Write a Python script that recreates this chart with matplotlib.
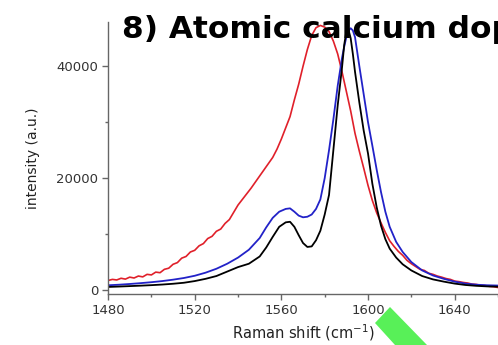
import matplotlib
matplotlib.use('Agg')
import matplotlib.pyplot as plt
from matplotlib.patches import Polygon
from matplotlib.ticker import MultipleLocator

# Raman spectra
shift = [1480, 1485, 1490, 1495, 1500, 1505, 1510, 1515, 1520, 1525, 1530, 1535,
         1540, 1545, 1550, 1553, 1556, 1559, 1562, 1564, 1566, 1568, 1570, 1572,
         1574, 1576, 1578, 1580, 1582, 1584, 1586, 1588, 1589, 1590, 1591, 1592,
         1593, 1594, 1596, 1598, 1600, 1602, 1604, 1606, 1608, 1610, 1613, 1616,
         1620, 1625, 1630, 1635, 1640, 1645, 1650, 1655, 1660]
black = [550, 620, 700, 780, 870, 980, 1120, 1300, 1600, 2000, 2500, 3300,
         4100, 4700, 6000, 7600, 9500, 11300, 12100, 12200, 11300, 9800, 8400, 7700,
         7800, 8900, 10600, 13500, 17000, 25000, 33000, 39800, 43800, 46300, 46500, 45000,
         42200, 39000, 33500, 28500, 24400, 19000, 14800, 11500, 9100, 7400, 5800, 4600,
         3500, 2500, 1900, 1500, 1150, 900, 750, 650, 600]
blue = [850, 950, 1080, 1230, 1400, 1600, 1850, 2150, 2550, 3100, 3800, 4700,
        5800, 7200, 9300, 11200, 12900, 14000, 14500, 14600, 14000, 13300, 13000, 13100,
        13500, 14500, 16200, 20000, 25000, 30500, 36500, 41500, 43500, 45200, 46400, 46800,
        46400, 45200, 40000, 35000, 30000, 25800, 21500, 17500, 14000, 11300, 8600, 6800,
        5000, 3500, 2600, 2000, 1500, 1150, 950, 850, 800]

shift_red = list(range(1480, 1661, 2))
red = [1700, 1900, 1800, 2100, 1950, 2300, 2150, 2500, 2350, 2800, 2700, 3200,
       3100, 3700, 3900, 4600, 4900, 5700, 6000, 6800, 7100, 7900, 8300, 9200,
       9600, 10500, 10900, 11900, 12600, 13900, 15200, 16200, 17200, 18200, 19300, 20400,
       21500, 22600, 23700, 25200, 27000, 29000, 31000, 34000, 36800, 40000, 43000, 45500,
       46900, 47300, 47000, 46200, 44500, 42200, 39000, 35500, 32000, 28000, 24800, 21800,
       18700, 16000, 13800, 12000, 10300, 8800, 7800, 6900, 6200, 5300, 4700, 4200,
       3700, 3500, 3000, 2800, 2500, 2300, 2050, 1900, 1600, 1500, 1350, 1250,
       1050, 1000, 850, 800, 650, 600, 450]

plt.rcParams['font.family'] = ['DejaVu Sans']

fig = plt.figure(figsize=(4.98, 3.45), dpi=100)
ax = fig.add_axes([0.217, 0.148, 0.783, 0.788])

ax.plot(shift_red, red, color='#e0202a', linewidth=1.2)
ax.plot(shift, blue, color='#2222c8', linewidth=1.3)
ax.plot(shift, black, color='black', linewidth=1.3)

ax.set_xlim(1480, 1660)
ax.set_ylim(-700, 47900)
ax.set_xticks([1480, 1520, 1560, 1600, 1640])
ax.set_yticks([0, 20000, 40000])
ax.xaxis.set_minor_locator(MultipleLocator(20))
ax.yaxis.set_minor_locator(MultipleLocator(10000))

for s in ['top', 'right']:
    ax.spines[s].set_visible(False)
for s in ['left', 'bottom']:
    ax.spines[s].set_color('#666666')
    ax.spines[s].set_linewidth(1.0)
ax.tick_params(which='major', length=4, width=1, color='#666666',
               labelsize=9.5, labelcolor='#333333', pad=3)
ax.tick_params(which='minor', length=2.5, width=1, color='#666666')

ax.set_xlabel('Raman shift (cm$^{-1}$)', fontsize=10.5, color='#222222', labelpad=4)
ax.set_ylabel('intensity (a.u.)', fontsize=10, color='#222222', labelpad=12)

fig.text(0.245, 0.89, '8) Atomic calcium doping', fontsize=22.5, fontweight='bold',
         va='baseline', ha='left')

W, H = 498.0, 345.0
pts = [(390, 307), (375, 323), (395, 345), (427, 345)]
green = Polygon([(x / W, 1 - y / H) for x, y in pts], closed=True,
                transform=fig.transFigure, facecolor='#58f058', edgecolor='none',
                zorder=5)
fig.patches.append(green)

fig.savefig('out.png', dpi=100)
